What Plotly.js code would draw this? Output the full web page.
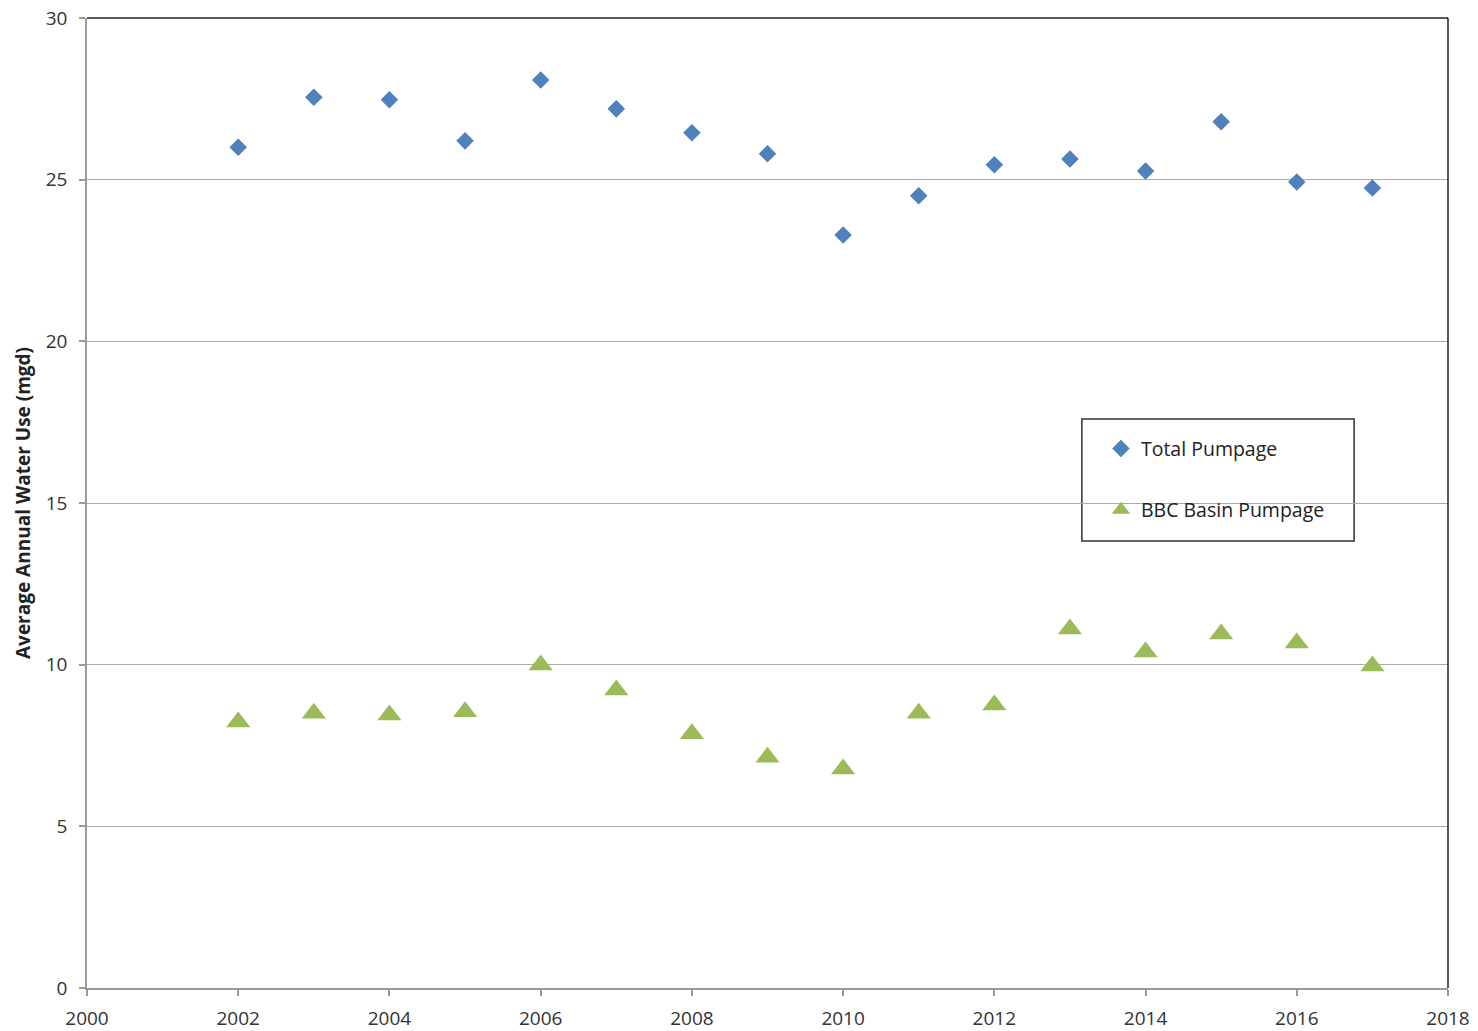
<!DOCTYPE html>
<html>
<head>
<meta charset="utf-8">
<script src="https://cdn.plot.ly/plotly-3.0.1.min.js"></script>
<style>html,body{margin:0;padding:0;background:#fff}#chart{width:1478px;height:1031px}</style>
</head>
<body>
<div id="chart"></div>
<script>
const years = [2002,2003,2004,2005,2006,2007,2008,2009,2010,2011,2012,2013,2014,2015,2016,2017];
const totalPumpage = [26.0,27.55,27.47,26.2,28.08,27.19,26.45,25.8,23.29,24.5,25.46,25.64,25.27,26.79,24.93,24.74];
const bbcBasinPumpage = [8.23,8.5,8.44,8.54,9.99,9.22,7.86,7.14,6.77,8.5,8.75,11.1,10.39,10.95,10.67,9.96];
const seriesNames = ["Total Pumpage","BBC Basin Pumpage"];
const yTitle = "Average Annual Water Use (mgd)";

const font = "Open Sans, Liberation Sans, sans-serif";
const traces = [
  {x: years, y: totalPumpage, name: seriesNames[0], type: "scatter", mode: "markers",
   legendgroup: "a",
   marker: {symbol: "diamond", size: 13.5, color: "#4F81BD"}},
  {x: years, y: bbcBasinPumpage, name: seriesNames[1], type: "scatter", mode: "markers",
   legendgroup: "b",
   marker: {symbol: "triangle-up", size: 21, color: "#9BBB59"}}
];
const layout = {
  width: 1478, height: 1031,
  margin: {l: 87, r: 30, t: 18, b: 43},
  paper_bgcolor: "#fff", plot_bgcolor: "#fff",
  font: {family: font, size: 18, color: "#333"},
  showlegend: true,
  legend: {x: 0.745, y: 0.576, xanchor: "left", yanchor: "top",
    bgcolor: "rgba(0,0,0,0)", borderwidth: 0, tracegroupgap: 33,
    font: {family: font, size: 19.5, color: "#222"}},
  xaxis: {range: [2000, 2018], dtick: 2, tick0: 2000, showgrid: false, zeroline: false,
    showline: true, linecolor: "#999", linewidth: 1.5, ticks: "outside", ticklen: 6,
    tickcolor: "#999", tickwidth: 1.5, mirror: false, tickfont: {size: 19, color: "#333"},
    ticklabelstandoff: 6},
  yaxis: {range: [0, 30], dtick: 5, showgrid: true, gridcolor: "#aaa", gridwidth: 1.2,
    zeroline: false, showline: true, linecolor: "#999", linewidth: 1.5, ticks: "outside",
    ticklen: 6, tickcolor: "#999", tickwidth: 1.5, tickfont: {size: 19, color: "#333"},
    ticklabelstandoff: 8,
    title: {text: "<b>" + yTitle + "</b>", font: {size: 19, color: "#222"}, standoff: 10}},
  shapes: [
    {type: "line", xref: "paper", yref: "paper", x0: 0, x1: 1, y0: 1, y1: 1, line: {color: "#222", width: 1.5}},
    {type: "line", xref: "paper", yref: "paper", x0: 1, x1: 1, y0: 0, y1: 1, line: {color: "#222", width: 1.5}},
    {type: "rect", xref: "paper", yref: "paper", x0: 0.731, x1: 0.931, y0: 0.4608, y1: 0.5866,
     fillcolor: "#fff", line: {color: "#333", width: 1.5}, layer: "below"}
  ]
};
Plotly.newPlot("chart", traces, layout, {displayModeBar: false});
</script>
</body>
</html>
